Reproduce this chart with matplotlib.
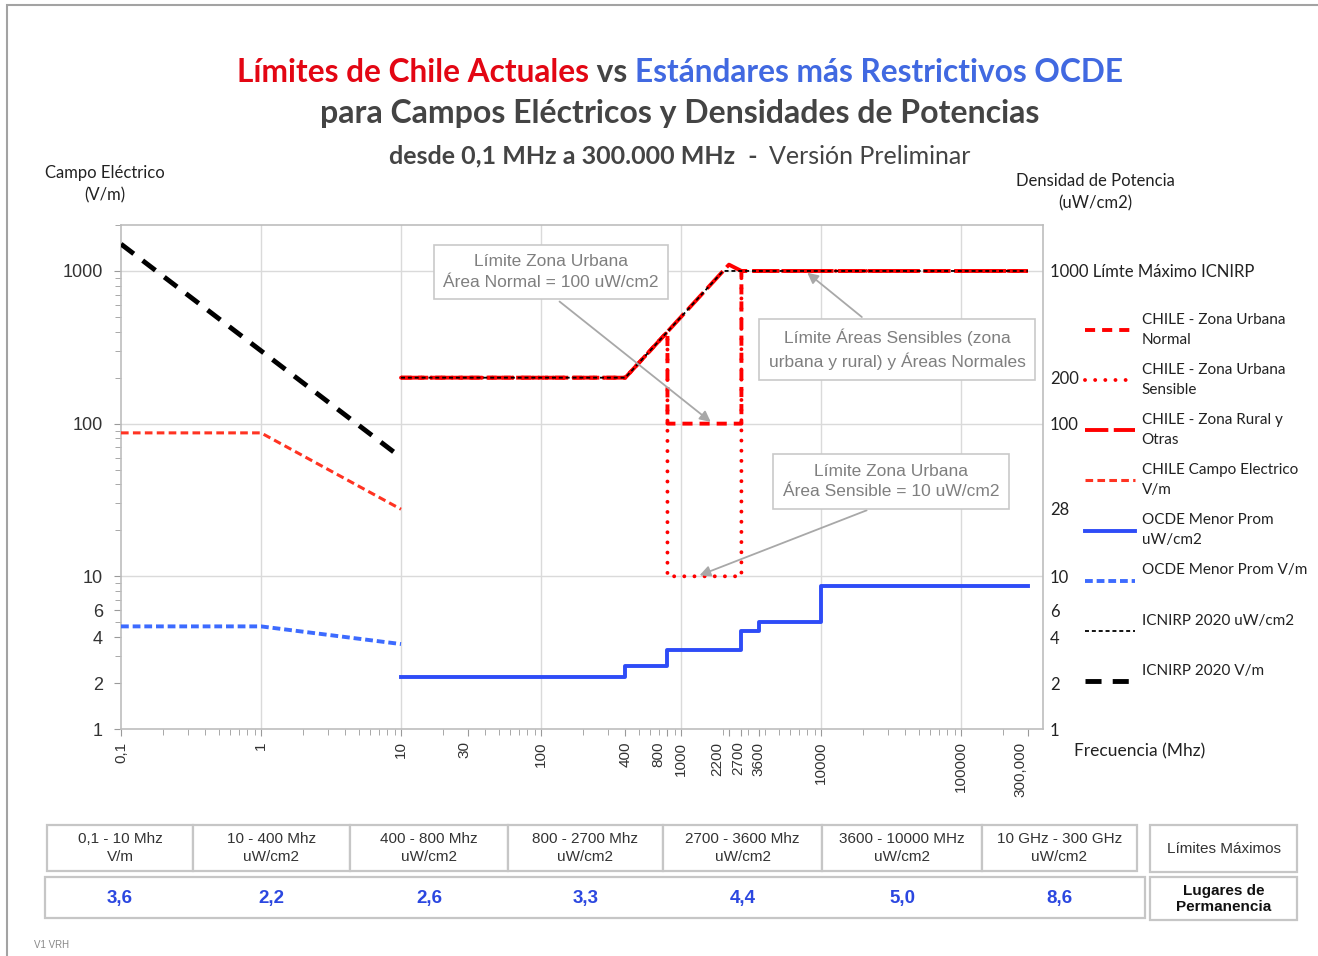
import matplotlib
matplotlib.use("Agg")
import matplotlib.pyplot as plt
from matplotlib.patches import Rectangle
from matplotlib.transforms import ScaledTranslation
from matplotlib.ticker import FixedLocator, LogLocator, NullFormatter, FixedFormatter

# campo electrico (V/m), 0,1 - 10 MHz
vm_freq = [0.1, 1, 10]
icnirp_vm = [1500, 300, 60]
chile_vm = [87, 87, 27.5]
ocde_vm = [4.7, 4.7, 3.6]

# densidad de potencia (uW/cm2), 10 MHz - 300 GHz
icnirp_freq = [10, 400, 2000, 300000]
icnirp_pd = [200, 200, 1000, 1000]
rural_freq = [10, 400, 2200, 2700, 300000]
rural_pd = [200, 200, 1100, 1000, 1000]
urbana_freq = [10, 400, 800, 800, 2700, 2700, 300000]
urbana_normal_pd = [200, 200, 400, 100, 100, 1000, 1000]
urbana_sensible_pd = [200, 200, 400, 10, 10, 1000, 1000]
ocde_freq = [10, 400, 800, 2700, 3600, 10000, 300000]
ocde_pd = [2.2, 2.6, 3.3, 4.4, 5.0, 8.6, 8.6]

xtick_vals = [0.1, 1, 10, 30, 100, 400, 800, 1000, 2200, 2700, 3600, 10000, 100000, 300000]
xtick_labels = ["0,1", "1", "10", "30", "100", "400", "800", "1000", "2200", "2700", "3600",
                "10000", "100000", "300,000"]
xlabel_shift = [0, 0, 0, -3, 0, 0, -9, 0, -12, -3, 0, 0, 0, -7]   # px, to keep labels apart
left_ticks = [1, 2, 4, 6, 10, 100, 1000]
right_ticks = [1, 2, 4, 6, 10, 28, 100, 200, 1000]
right_labels = ["1", "2", "4", "6", "10", "28", "100", "200", "1000 Límte Máximo ICNIRP"]
decades = [1, 10, 100, 1000, 10000, 100000]
grid_y = [10, 100, 1000]

table_headers = ["0,1 - 10 Mhz\nV/m", "10 - 400 Mhz\nuW/cm2", "400 - 800 Mhz\nuW/cm2",
                 "800 - 2700 Mhz\nuW/cm2", "2700 - 3600 Mhz\nuW/cm2", "3600 - 10000 MHz\nuW/cm2",
                 "10 GHz - 300 GHz\nuW/cm2"]
table_values = [3.6, 2.2, 2.6, 3.3, 4.4, 5.0, 8.6]

RED = "#ff0000"
RED2 = "#ff3322"
BLUE = "#2e4cf7"
BLUE2 = "#3d6bff"
GRAY = "#444444"

W, H = 1318, 956
fig = plt.figure(figsize=(W / 100, H / 100), dpi=100)
ax = fig.add_axes([121 / W, 1 - 729 / H, (1043 - 121) / W, (729 - 225) / H])
ax.set_xscale("log")
ax.set_yscale("log")
ax.set_xlim(0.1, 385000)
ax.set_ylim(1, 2000)

for d in decades:
    ax.axvline(d, color="#dadada", lw=1, zorder=0)
for g in grid_y:
    ax.axhline(g, color="#dadada", lw=1, zorder=0)

# V/m
l_icvm, = ax.plot(vm_freq, icnirp_vm, color="black", lw=3.5, dashes=(3.3, 2.3), zorder=4)
l_chvm, = ax.plot(vm_freq, chile_vm, color=RED2, lw=2.2, dashes=(2.5, 1.4), zorder=4)
l_ocvm, = ax.plot(vm_freq, ocde_vm, color=BLUE2, lw=2.8, dashes=(2.0, 1.0), zorder=3)

# uW/cm2
l_ocpd, = ax.plot(ocde_freq, ocde_pd, color=BLUE, lw=2.8, drawstyle="steps-post", zorder=3)
l_urb, = ax.plot(urbana_freq, urbana_normal_pd, color=RED, lw=2.8, dashes=(2.6, 1.8), zorder=4)
l_sen, = ax.plot(urbana_freq, urbana_sensible_pd, color=RED, lw=2.8, dashes=(0.01, 2.6),
                 dash_capstyle="round", zorder=4)
l_rur, = ax.plot(rural_freq, rural_pd, color=RED, lw=2.8, dashes=(6, 1.4), zorder=4)
l_icpd, = ax.plot(icnirp_freq, icnirp_pd, color="black", lw=1.3, dashes=(2.2, 1.6), zorder=5)

# axes styling
for s in ax.spines.values():
    s.set_color("#bdbdbd")
    s.set_linewidth(1.2)
ax.xaxis.set_major_locator(FixedLocator(xtick_vals))
ax.xaxis.set_major_formatter(FixedFormatter(xtick_labels))
ax.xaxis.set_minor_locator(LogLocator(base=10, subs=range(2, 10), numticks=20))
ax.xaxis.set_minor_formatter(NullFormatter())
ax.yaxis.set_major_locator(FixedLocator(left_ticks))
ax.yaxis.set_major_formatter(FixedFormatter([str(v) for v in left_ticks]))
ax.yaxis.set_minor_locator(LogLocator(base=10, subs=range(2, 10), numticks=20))
ax.yaxis.set_minor_formatter(NullFormatter())
ax.tick_params(axis="both", which="both", color="#9a9a9a", direction="out")
ax.tick_params(axis="both", which="major", length=5)
ax.tick_params(axis="both", which="minor", length=4)
ax.tick_params(axis="x", which="major", labelrotation=90, pad=4)
ax.tick_params(axis="y", which="major", pad=8)
for t, dx in zip(ax.get_xticklabels(), xlabel_shift):
    t.set_fontfamily("Liberation Sans")
    t.set_fontsize(11)
    t.set_color("#333333")
    t.set_transform(t.get_transform() + ScaledTranslation(dx / 100, 0, fig.dpi_scale_trans))
for t in ax.get_yticklabels():
    t.set_fontfamily("Liberation Sans")
    t.set_fontsize(13)
    t.set_color("#333333")

ax2 = ax.twinx()
ax2.set_yscale("log")
ax2.set_ylim(ax.get_ylim())
ax2.yaxis.set_major_locator(FixedLocator(right_ticks))
ax2.yaxis.set_major_formatter(FixedFormatter(right_labels))
ax2.yaxis.set_minor_locator(FixedLocator([]))
ax2.tick_params(axis="y", length=0, pad=5)
for t in ax2.get_yticklabels():
    t.set_fontfamily("Lato")
    t.set_fontsize(12)
    t.set_color("#222222")
for s in ax2.spines.values():
    s.set_visible(False)

# notes with arrows
notes = [
    ("Límite Zona Urbana\nÁrea Normal = 100 uW/cm2", (118, 985), (1690, 100), (0.47, 0.0)),
    ("Límite Áreas Sensibles (zona\nurbana y rural) y Áreas Normales", (34900, 305), (7700, 1000), (0.42, 1.0)),
    ("Límite Zona Urbana\nÁrea Sensible = 10 uW/cm2", (31600, 41.8), (1300, 10), (0.52, 0.0)),
]
for txt, pos, tgt, rel in notes:
    ax.annotate(txt, xy=tgt, xytext=pos, ha="center", va="center", fontsize=12.5,
                family="Liberation Sans", color="#7f7f7f", zorder=7, linespacing=1.45,
                bbox=dict(boxstyle="square,pad=0.55", fc="white", ec="#c9c9c9", lw=1.2),
                arrowprops=dict(arrowstyle="-|>", color="#a8a8a8", lw=1.3,
                                mutation_scale=16, relpos=rel))

# legend
handles = [l_urb, l_sen, l_rur, l_chvm, l_ocpd, l_ocvm, l_icpd, l_icvm]
labels = ["CHILE - Zona Urbana\nNormal", "CHILE - Zona Urbana\nSensible", "CHILE - Zona Rural y\nOtras",
          "CHILE Campo Electrico\nV/m", "OCDE Menor Prom\nuW/cm2", "OCDE Menor Prom V/m\n",
          "ICNIRP 2020 uW/cm2\n", "ICNIRP 2020 V/m\n"]
leg = ax.legend(handles, labels, loc="upper left", bbox_to_anchor=(1085 / W, 1 - 313 / H),
                bbox_transform=fig.transFigure, frameon=False, handlelength=3.3,
                handletextpad=0.4, labelspacing=1.05, borderpad=0, borderaxespad=0,
                prop={"family": "Lato", "size": 11})
for t in leg.get_texts():
    t.set_color("#222222")
    t.set_linespacing(1.55)

# axis titles
fig.text(105 / W, 1 - 184 / H, "Campo Eléctrico\n(V/m)", ha="center", va="center",
         family="Lato", fontsize=12, color="#222222", linespacing=1.45)
fig.text(1095 / W, 1 - 192 / H, "Densidad de Potencia\n(uW/cm2)", ha="center", va="center",
         family="Lato", fontsize=12, color="#222222", linespacing=1.45)
fig.text(1140 / W, 1 - 751 / H, "Frecuencia (Mhz)", ha="center", va="center",
         family="Lato", fontsize=12.5, color="#222222")


def centered_pieces(pieces, xc, y):
    r = fig.canvas.get_renderer()
    texts = [fig.text(0, y, s, color=c, fontweight=w, fontsize=sz, family="Lato", va="center")
             for s, c, w, sz in pieces]
    widths = [t.get_window_extent(r).width for t in texts]
    x = xc * W - sum(widths) / 2
    for t, wd in zip(texts, widths):
        t.set_x(x / W)
        x += wd


centered_pieces([("Límites de Chile Actuales", "#e30613", "bold", 22.8),
                 (" vs ", GRAY, "bold", 22.8),
                 ("Estándares más Restrictivos OCDE", "#4169e1", "bold", 22.8)], 680 / W, 1 - 73 / H)
centered_pieces([("para Campos Eléctricos y Densidades de Potencias", GRAY, "bold", 23)],
                680 / W, 1 - 113 / H)
centered_pieces([("desde 0,1 MHz a 300.000 MHz", GRAY, "bold", 18),
                 ("  -  ", GRAY, "bold", 18),
                 ("Versión Preliminar", GRAY, "normal", 18)], 680 / W, 1 - 156 / H)

# table
edges = [47, 193, 350, 508, 663, 822, 982, 1137]
box_kw = dict(transform=fig.transFigure, fill=True, fc="white", ec="#c6c6c6", lw=1.6)
for i, head in enumerate(table_headers):
    x0, x1 = edges[i], edges[i + 1]
    fig.add_artist(Rectangle((x0 / W, 1 - 871 / H), (x1 - x0) / W, 46 / H, **box_kw))
    fig.text((x0 + x1) / 2 / W, 1 - 848 / H, head, ha="center", va="center",
             family="Liberation Sans", fontsize=11, color="#333333", linespacing=1.3)
    fig.text((x0 + x1) / 2 / W, 1 - 899 / H, f"{table_values[i]:.1f}".replace(".", ","),
             ha="center", va="center", family="Liberation Sans", fontsize=13.5,
             fontweight="bold", color="#2b47e0")
fig.add_artist(Rectangle((45 / W, 1 - 918 / H), 1100 / W, 41 / H, zorder=0, **box_kw))
fig.add_artist(Rectangle((1150 / W, 1 - 872 / H), 147 / W, 47 / H, **box_kw))
fig.add_artist(Rectangle((1150 / W, 1 - 920 / H), 147 / W, 43 / H, **box_kw))
fig.text(1224 / W, 1 - 849 / H, "Límites Máximos", ha="center", va="center",
         family="Liberation Sans", fontsize=11, color="#333333")
fig.text(1224 / W, 1 - 899 / H, "Lugares de\nPermanencia", ha="center", va="center",
         family="Liberation Sans", fontsize=11, fontweight="bold", color="#111111")

fig.text(34 / W, 1 - 945 / H, "V1 VRH", ha="left", va="center", family="Liberation Sans",
         fontsize=7, color="#888888")

# page frame
fig.add_artist(Rectangle((7 / W, -0.1), 1.2, 1.1 - 5 / H, transform=fig.transFigure,
                         fill=False, ec="#a3a3a3", lw=1.5))

fig.savefig("out.png", dpi=100)
